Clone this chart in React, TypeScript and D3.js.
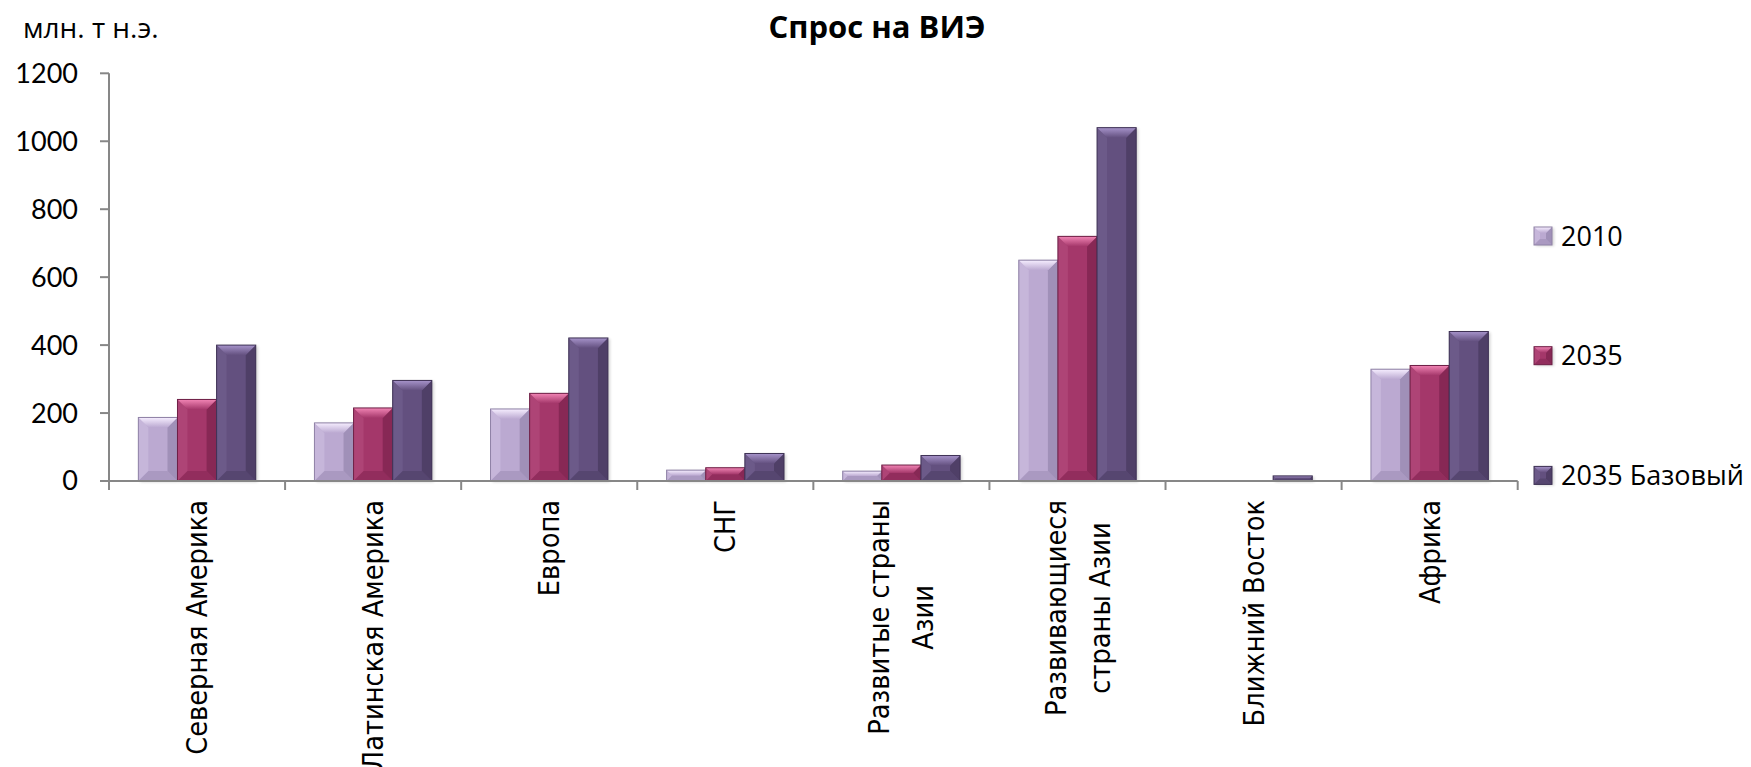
import React, { useEffect, useRef } from "react";
import * as d3 from "d3";

const categories = [
  "Северная Америка",
  "Латинская Америка",
  "Европа",
  "СНГ",
  "Развитые страны\nАзии",
  "Развивающиеся\nстраны Азии",
  "Ближний Восток",
  "Африка",
];
const seriesNames = ["2010", "2035", "2035 Базовый"];
const values2010 = [187, 171, 212, 32, 29, 650, 0, 329];
const values2035 = [240, 215, 258, 39, 47, 720, 0, 340];
const values2035Base = [400, 296, 421, 81, 75, 1040, 15, 440];
const yTicks = [0, 200, 400, 600, 800, 1000, 1200];
const title = "Спрос на ВИЭ";
const unitLabel = "млн. т н.э.";

const palettes = [
  { body: "#BBA9D1", light: "#F6EEFF", side: "#C6B6DA", dark: "#9A89B2", edge: "#8F82A6" },
  { body: "#A4376A", light: "#F285B5", side: "#AE4476", dark: "#7F2450", edge: "#6E2046" },
  { body: "#63507F", light: "#A794CB", side: "#6C5A89", dark: "#4A3B62", edge: "#3F3255" },
];

export default function App() {
  const ref = useRef<SVGSVGElement>(null);

  useEffect(() => {
    const svg = d3.select(ref.current);
    svg.selectAll("*").remove();

    const x0 = 109, x1 = 1517.7, yBase = 481, yTop = 73.3;
    const x = d3.scaleBand<string>().domain(categories).range([x0, x1]).paddingInner(0).paddingOuter(0);
    const xs = d3.scaleBand<string>().domain(seriesNames).range([0, x.bandwidth()]).paddingInner(0).paddingOuter(0.75);
    const y = d3.scaleLinear().domain([0, 1200]).range([yBase, yTop]);
    const data = [values2010, values2035, values2035Base];

    const defs = svg.append("defs");
    palettes.forEach((p, i) => {
      const g = defs.append("linearGradient").attr("id", "top" + i).attr("x1", 0).attr("y1", 0).attr("x2", 0).attr("y2", 1);
      g.append("stop").attr("offset", "0%").attr("stop-color", p.light);
      g.append("stop").attr("offset", "100%").attr("stop-color", p.body);
    });
    const f = defs.append("filter").attr("id", "shadow").attr("x", "-20%").attr("y", "-20%").attr("width", "140%").attr("height", "140%");
    f.append("feGaussianBlur").attr("stdDeviation", 1.5);

    const fontNum = "Lato, 'Open Sans', sans-serif";
    const fontText = "'Open Sans', sans-serif";

    svg.append("rect").attr("width", 1751).attr("height", 767).attr("fill", "#fff");

    function bevel(g: any, bx: number, by: number, w: number, h: number, i: number, b: number) {
      const p = palettes[i];
      if (h <= 0) return;
      const bb = Math.min(b, h / 2, w / 2);
      g.append("rect").attr("x", bx + 2).attr("y", by + 1).attr("width", w).attr("height", h)
        .attr("fill", "#000").attr("opacity", 0.18).attr("filter", "url(#shadow)");
      g.append("rect").attr("x", bx).attr("y", by).attr("width", w).attr("height", h).attr("fill", p.body);
      const poly = (pts: number[][], fill: string, op = 1) =>
        g.append("polygon").attr("points", pts.map((q) => q.join(",")).join(" ")).attr("fill", fill).attr("opacity", op);
      poly([[bx, by], [bx + bb, by + bb], [bx + bb, by + h - bb], [bx, by + h]], p.side);
      poly([[bx + w, by], [bx + w - bb, by + bb], [bx + w - bb, by + h - bb], [bx + w, by + h]], p.dark, 0.8);
      poly([[bx, by + h], [bx + bb, by + h - bb], [bx + w - bb, by + h - bb], [bx + w, by + h]], p.dark, 0.5);
      poly([[bx, by], [bx + w, by], [bx + w - bb, by + bb], [bx + bb, by + bb]], `url(#top${i})`);
      g.append("rect").attr("x", bx).attr("y", by).attr("width", w).attr("height", h)
        .attr("fill", "none").attr("stroke", p.edge).attr("stroke-width", 1);
    }

    // bars
    const bars = svg.append("g");
    categories.forEach((c, ci) => {
      seriesNames.forEach((s, si) => {
        const v = data[si][ci];
        const bx = (x(c) as number) + (xs(s) as number);
        const by = y(v);
        bevel(bars, bx, by, xs.bandwidth(), yBase - by, si, 10);
      });
    });

    // axes
    const axisColor = "#878787";
    const ax = svg.append("g").attr("stroke", axisColor).attr("stroke-width", 2).attr("fill", "none");
    ax.append("line").attr("x1", x0).attr("x2", x0).attr("y1", yTop).attr("y2", yBase + 9);
    ax.append("line").attr("x1", x0 - 9).attr("x2", x1).attr("y1", yBase).attr("y2", yBase);
    yTicks.forEach((t) => {
      ax.append("line").attr("x1", x0 - 9).attr("x2", x0).attr("y1", y(t)).attr("y2", y(t));
    });
    categories.forEach((c) => {
      const xx = (x(c) as number) + x.bandwidth();
      ax.append("line").attr("x1", xx).attr("x2", xx).attr("y1", yBase).attr("y2", yBase + 9);
    });

    // y tick labels
    svg.append("g").selectAll("text").data(yTicks).join("text")
      .attr("x", 78).attr("y", (d) => y(d)).attr("dy", "0.35em")
      .attr("text-anchor", "end").attr("font-family", fontNum).attr("font-size", 27).attr("fill", "#000")
      .text((d) => String(d));

    // x labels
    const labelFont = "'DejaVu Sans', Verdana, sans-serif";
    categories.forEach((c) => {
      const lines = c.split("\n");
      const cx = (x(c) as number) + x.bandwidth() / 2;
      const g = svg.append("g").attr("transform", `translate(${cx},500) rotate(-90) scale(0.92,1)`);
      const texts = lines.map((ln, li) =>
        g.append("text").attr("font-family", labelFont).attr("font-size", 28).attr("fill", "#000")
          .attr("y", (li - (lines.length - 1) / 2) * 44).attr("dy", "0.36em").text(ln)
      );
      const maxLen = d3.max(texts, (t: any) => (t.node() as SVGTextElement).getComputedTextLength()) || 0;
      texts.forEach((t: any) => t.attr("x", -maxLen / 2).attr("text-anchor", "middle"));
    });

    // title
    svg.append("text").attr("x", 877).attr("y", 38).attr("text-anchor", "middle")
      .attr("font-family", fontText).attr("font-weight", "bold").attr("font-size", 31).text(title);
    svg.append("text").attr("x", 23).attr("y", 38)
      .attr("font-family", fontText).attr("font-size", 28).text(unitLabel);

    // legend
    const lg = svg.append("g");
    seriesNames.forEach((s, i) => {
      const cy = 236 + i * 119.7;
      bevel(lg, 1534, cy - 9, 18, 18, i, 6);
      lg.append("text").attr("x", 1561).attr("y", cy).attr("dy", "0.36em")
        .attr("font-family", fontText).attr("font-size", 27).text(s);
    });
  }, []);

  return <svg ref={ref} width={1751} height={767} style={{ position: "absolute", left: 0, top: 0 }} />;
}
